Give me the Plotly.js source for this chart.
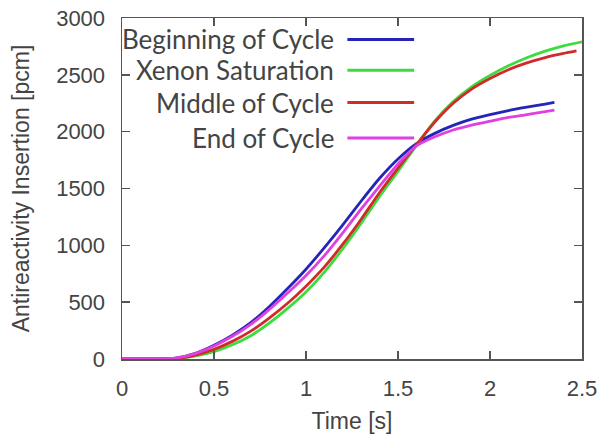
<!DOCTYPE html>
<html><head><meta charset="utf-8">
<script src="https://cdn.plot.ly/plotly-3.0.1.min.js"></script>
<style>body{margin:0;background:#fff}#c{width:605px;height:438px}</style>
</head><body><div id="c"></div>
<script>
const seriesNames = ["Beginning of Cycle", "Xenon Saturation", "Middle of Cycle", "End of Cycle"];
const seriesColors = ["#2424b8", "#3ddc3d", "#d02a2a", "#e040e0"];

const tBOC = [0,0.1,0.2,0.25,0.3,0.4,0.5,0.6,0.7,0.8,0.9,1.0,1.1,1.2,1.3,1.4,1.5,1.6,1.7,1.8,1.9,2.0,2.1,2.2,2.3,2.35];
const yBOC = [0,0,0,2,10,50,120,210,320,460,620,790,980,1180,1390,1590,1760,1895,1985,2055,2110,2150,2185,2215,2243,2257];

const tXS = [0,0.1,0.2,0.25,0.3,0.4,0.5,0.6,0.7,0.8,0.9,1.0,1.1,1.2,1.3,1.4,1.5,1.6,1.7,1.8,1.9,2.0,2.1,2.2,2.3,2.4,2.5];
const yXS = [0,0,0,1,4,28,65,125,205,315,445,590,765,970,1195,1430,1650,1880,2095,2265,2395,2495,2580,2650,2708,2755,2790];

const tMOC = [0,0.1,0.2,0.25,0.3,0.4,0.5,0.6,0.7,0.8,0.9,1.0,1.1,1.2,1.3,1.4,1.5,1.6,1.7,1.8,1.9,2.0,2.1,2.2,2.3,2.4,2.47];
const yMOC = [0,0,0,1,5,35,85,155,245,360,490,640,810,1010,1230,1465,1680,1885,2085,2250,2375,2468,2545,2605,2652,2688,2710];

const tEOC = [0,0.1,0.2,0.25,0.3,0.4,0.5,0.6,0.7,0.8,0.9,1.0,1.1,1.2,1.3,1.4,1.5,1.6,1.7,1.8,1.9,2.0,2.1,2.2,2.3,2.35];
const yEOC = [0,0,0,2,10,50,115,200,305,435,580,735,910,1110,1320,1520,1715,1875,1955,2015,2058,2092,2125,2150,2177,2190];

const xTickVals = [0,0.5,1,1.5,2,2.5];
const xTickText = ["0","0.5","1","1.5","2","2.5"];
const yTickVals = [0,500,1000,1500,2000,2500,3000];

const xs = [tBOC, tXS, tMOC, tEOC];
const ys = [yBOC, yXS, yMOC, yEOC];

const traces = seriesNames.map((n, i) => ({
  x: xs[i], y: ys[i], name: n, type: "scatter", mode: "lines",
  line: {color: seriesColors[i], width: 2.8, shape: "spline", smoothing: 0.6}
}));

const txtColor = "#444";
const annotations = [];
const shapes = [];
const legY = [0.937, 0.847, 0.752, 0.648];
seriesNames.forEach((n, i) => {
  annotations.push({xref: "paper", yref: "paper", x: 0.465, y: legY[i], xanchor: "right", yanchor: "middle",
    text: n, showarrow: false, font: {family: "Lato, sans-serif", size: 26, color: txtColor}});
  shapes.push({type: "line", xref: "paper", yref: "paper", x0: 0.49, x1: 0.635, y0: legY[i], y1: legY[i],
    line: {color: seriesColors[i], width: 3}});
});

const baseFont = "Liberation Sans, Arial, sans-serif";
const axisCommon = {
  showgrid: false, zeroline: false, showline: true, linecolor: "#555", linewidth: 1.5,
  mirror: "ticks", ticks: "inside", ticklen: 8, tickcolor: "#555", tickwidth: 1.5,
  automargin: false,
  tickfont: {family: baseFont, size: 22, color: txtColor}
};

const layout = {
  width: 605, height: 438,
  margin: {l: 122, r: 23, t: 18, b: 79},
  paper_bgcolor: "#fff", plot_bgcolor: "#fff",
  showlegend: false,
  xaxis: Object.assign({}, axisCommon, {range: [0, 2.5], tickvals: xTickVals, ticktext: xTickText, ticklabelstandoff: 9,
    title: {text: "Time [s]", font: {family: baseFont, size: 23, color: txtColor}, standoff: 13}}),
  yaxis: Object.assign({}, axisCommon, {range: [0, 3000], tickvals: yTickVals, ticklabelstandoff: 11,
    title: {text: "Antireactivity Insertion [pcm]", font: {family: baseFont, size: 23, color: txtColor}, standoff: 20}}),
  annotations: annotations,
  shapes: shapes
};

Plotly.newPlot("c", traces, layout, {displayModeBar: false, staticPlot: true});
</script></body></html>
